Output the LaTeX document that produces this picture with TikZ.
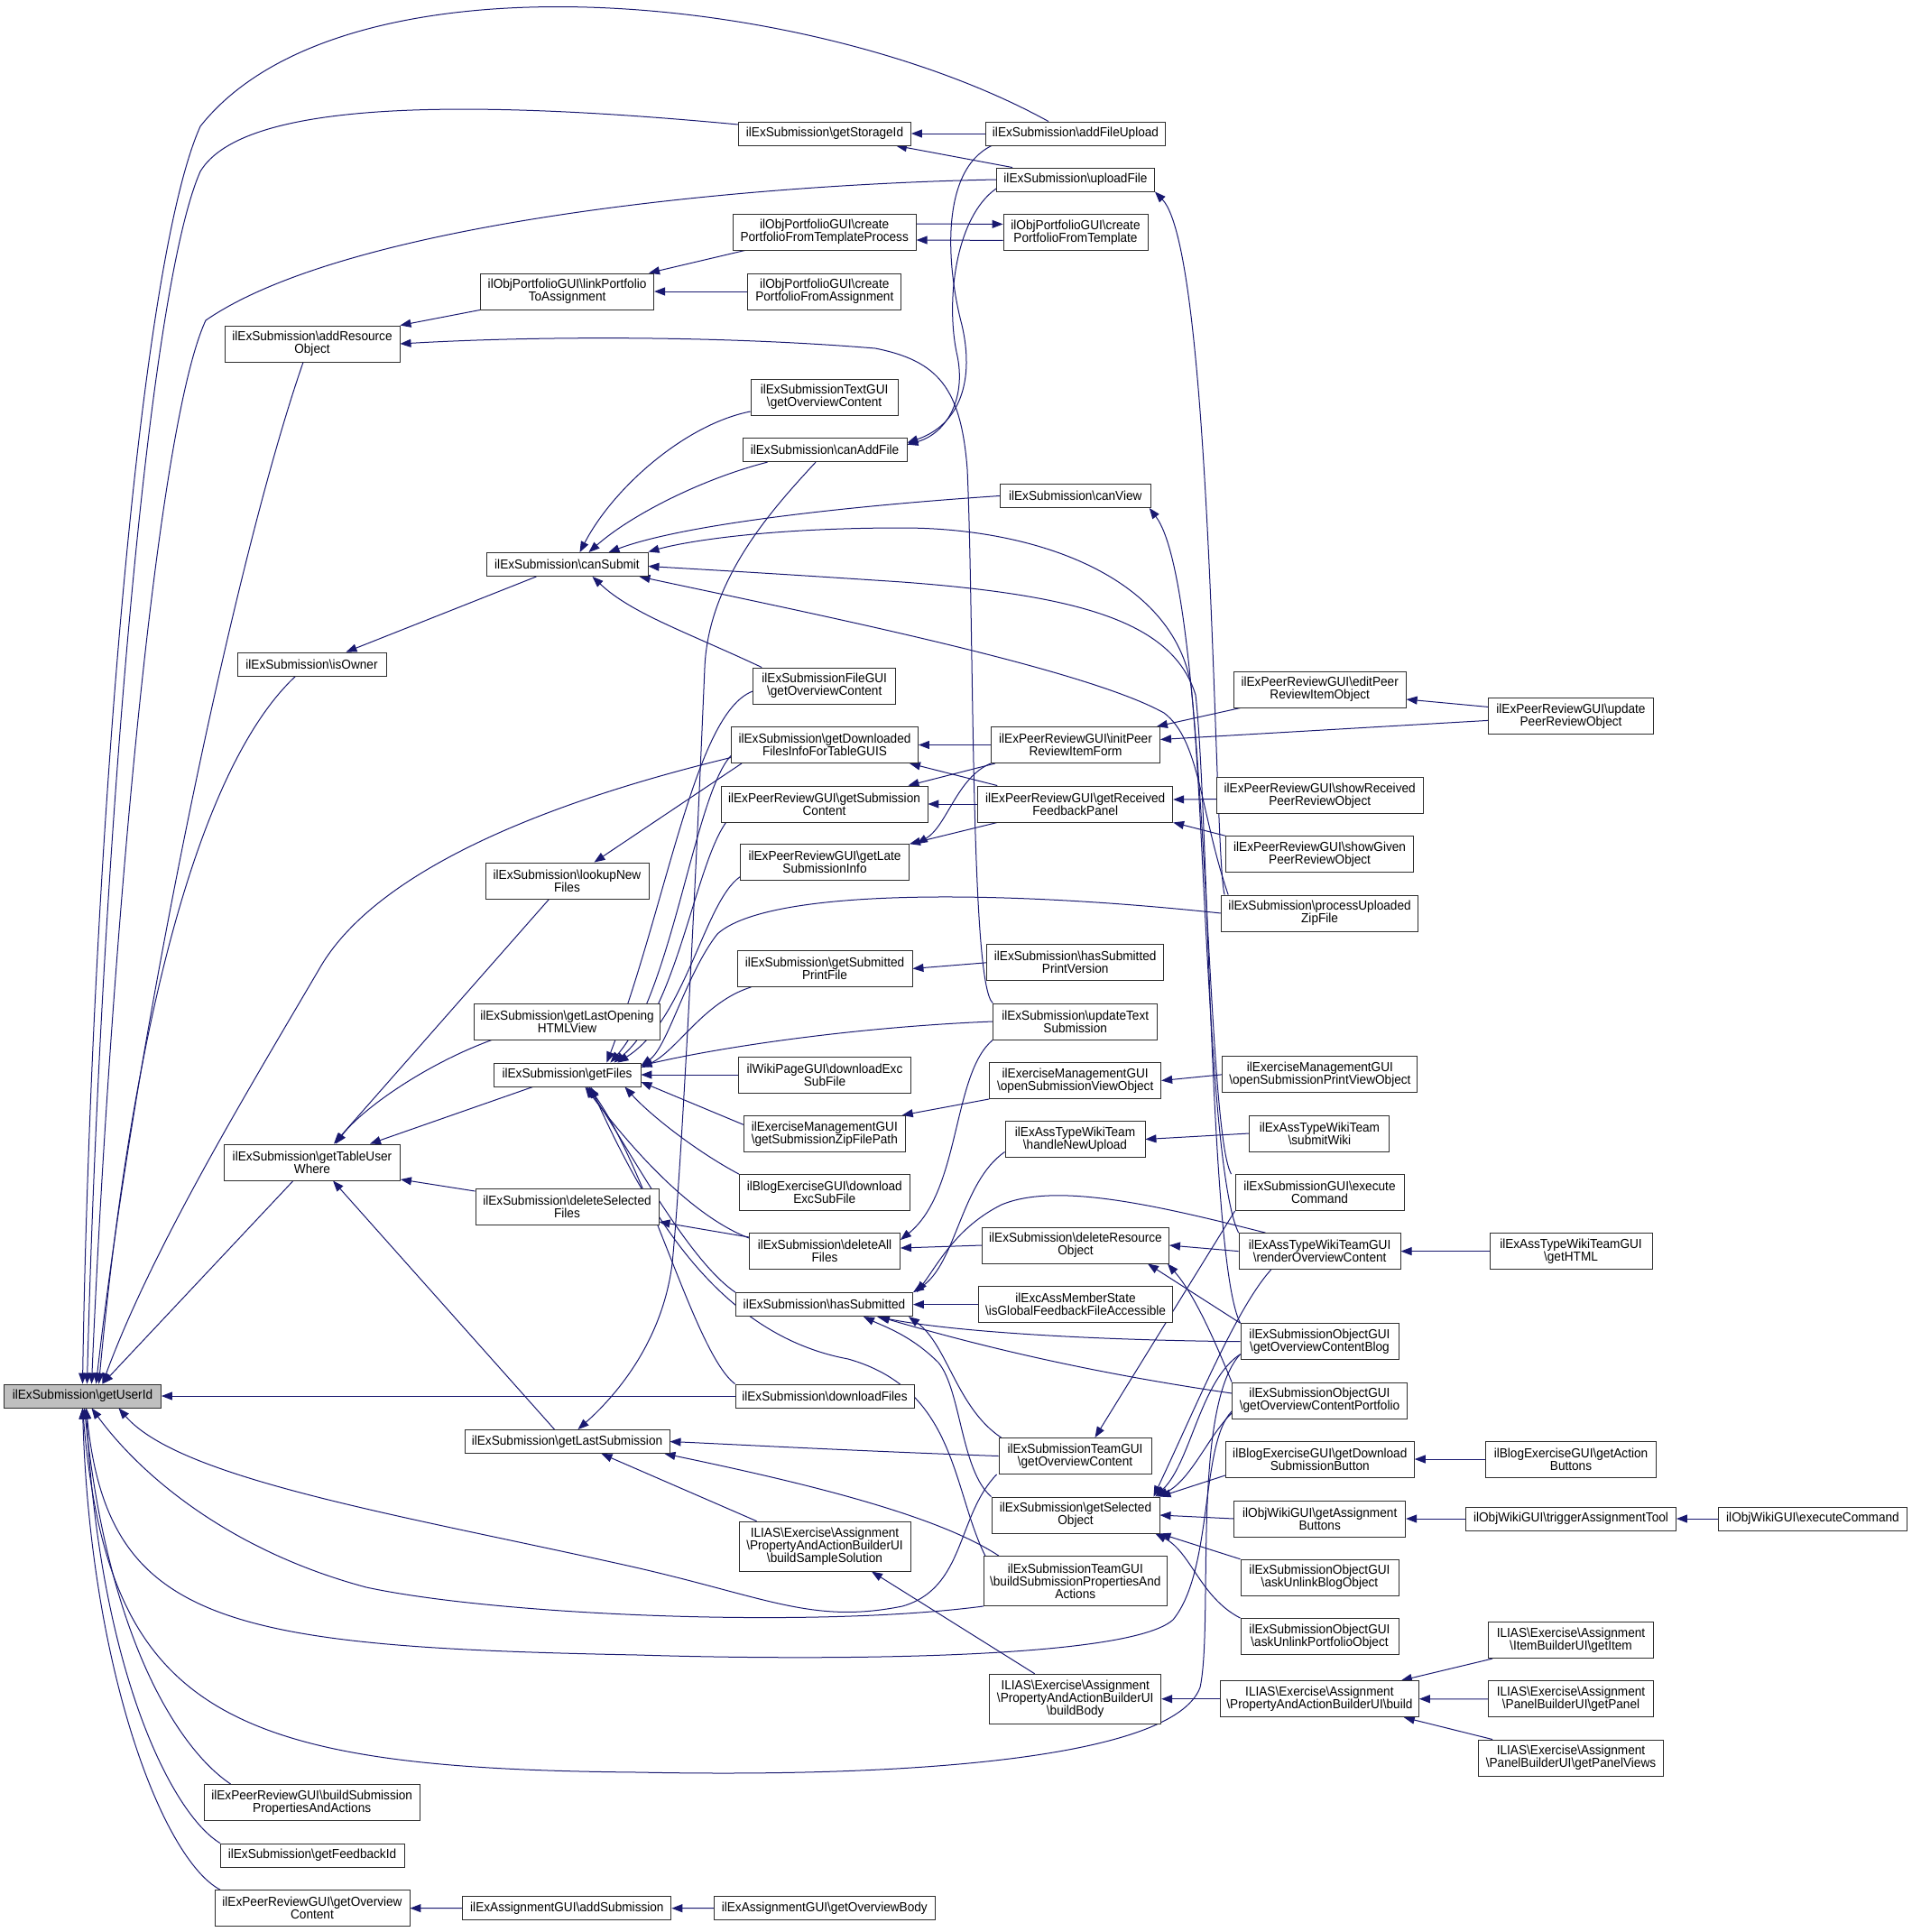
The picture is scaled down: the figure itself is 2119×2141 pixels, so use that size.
\documentclass[tikz,border=0pt]{standalone}
\usepackage{fontspec}
\newfontfamily\dxfont{Liberation Sans}[FakeStretch=0.94]
\usetikzlibrary{arrows.meta,backgrounds}
\definecolor{edgeblue}{HTML}{191970}
\definecolor{rootgrey}{HTML}{BFBFBF}
\definecolor{boxline}{HTML}{2E2E2E}
\newcommand{\bsl}{\textbackslash}

\tikzset{
  fn/.style={draw=boxline, fill=white, line width=0.9pt, align=center, inner sep=1pt,
    minimum height=26pt, font={\dxfont\fontsize{14.5pt}{14pt}\selectfont}},
  fnb/.style={fn, minimum height=40pt},
  fnc/.style={fn, minimum height=55pt},
  wd/.style={minimum width=#1},
  call/.style={draw=edgeblue, line width=1pt, -{Triangle[length=12pt,width=9pt]}}
}

\begin{document}
\begin{tikzpicture}[x=1pt,y=-1pt]
\useasboundingbox (0,0) rectangle (2119,2141);

% root
\node[fn,fill=rootgrey,wd=174] (uid) at (91.5,1547) {ilExSubmission\bsl getUserId};

% column 2
\node[fnb,wd=194] (arso) at (346,381) {ilExSubmission\bsl addResource\\Object};
\node[fn,wd=165] (own) at (345.5,736) {ilExSubmission\bsl isOwner};
\node[fnb,wd=195] (tuw) at (346,1288) {ilExSubmission\bsl getTableUser\\Where};
\node[fnb,wd=239] (prbsp) at (345.7,1997.5) {ilExPeerReviewGUI\bsl buildSubmission\\PropertiesAndActions};
\node[fn,wd=204] (fbid) at (346,2056) {ilExSubmission\bsl getFeedbackId};
\node[fnb,wd=216] (proc) at (346,2114.6) {ilExPeerReviewGUI\bsl getOverview\\Content};

% column 3
\node[fnb,wd=192] (link) at (628.6,323) {ilObjPortfolioGUI\bsl linkPortfolio\\ToAssignment};
\node[fn,wd=179] (csub) at (628.5,625.5) {ilExSubmission\bsl canSubmit};
\node[fnb,wd=181] (lnf) at (628.5,976) {ilExSubmission\bsl lookupNew\\Files};
\node[fnb,wd=206] (glo) at (628.5,1132) {ilExSubmission\bsl getLastOpening\\HTMLView};
\node[fn,wd=163] (gfiles) at (628.5,1191) {ilExSubmission\bsl getFiles};
\node[fnb,wd=203] (dsf) at (628.5,1337) {ilExSubmission\bsl deleteSelected\\Files};
\node[fn,wd=227] (gls) at (628.5,1597.5) {ilExSubmission\bsl getLastSubmission};
\node[fn,wd=231] (asub) at (628.4,2114.7) {ilExAssignmentGUI\bsl addSubmission};

% column 4
\node[fn,wd=191] (stor) at (914,148) {ilExSubmission\bsl getStorageId};
\node[fnb,wd=203] (cpftp) at (913.7,257) {ilObjPortfolioGUI\bsl create\\PortfolioFromTemplateProcess};
\node[fnb,wd=170] (cpfa) at (913.8,323) {ilObjPortfolioGUI\bsl create\\PortfolioFromAssignment};
\node[fnb,wd=163] (tgui) at (913.6,440) {ilExSubmissionTextGUI\\\bsl getOverviewContent};
\node[fn,wd=182] (caf) at (914,498.7) {ilExSubmission\bsl canAddFile};
\node[fnb,wd=158] (fgui) at (913.7,760) {ilExSubmissionFileGUI\\\bsl getOverviewContent};
\node[fnb,wd=207] (dfi) at (914,825.5) {ilExSubmission\bsl getDownloaded\\FilesInfoForTableGUIS};
\node[fnb,wd=229] (subc) at (913.5,891) {ilExPeerReviewGUI\bsl getSubmission\\Content};
\node[fnb,wd=187] (late) at (914,955.7) {ilExPeerReviewGUI\bsl getLate\\SubmissionInfo};
\node[fnb,wd=194] (gspf) at (914,1073.4) {ilExSubmission\bsl getSubmitted\\PrintFile};
\node[fnb,wd=191] (wdl) at (914,1191) {ilWikiPageGUI\bsl downloadExc\\SubFile};
\node[fnb,wd=179] (zip) at (913.8,1256.3) {ilExerciseManagementGUI\\\bsl getSubmissionZipFilePath};
\node[fnb,wd=189] (bdl) at (913.8,1321.5) {ilBlogExerciseGUI\bsl download\\ExcSubFile};
\node[fnb,wd=167] (daf) at (914,1386) {ilExSubmission\bsl deleteAll\\Files};
\node[fn,wd=196] (hsub) at (913.5,1445.6) {ilExSubmission\bsl hasSubmitted};
\node[fn,wd=198] (dlf) at (914,1547) {ilExSubmission\bsl downloadFiles};
\node[fnc,wd=190] (bss) at (914,1713.6) {ILIAS\bsl Exercise\bsl Assignment\\\bsl PropertyAndActionBuilderUI\\\bsl buildSampleSolution};
\node[fn,wd=245] (obody) at (913.8,2114.6) {ilExAssignmentGUI\bsl getOverviewBody};

% column 5
\node[fn,wd=199] (afu) at (1192,148) {ilExSubmission\bsl addFileUpload};
\node[fn,wd=175] (upl) at (1192,199) {ilExSubmission\bsl uploadFile};
\node[fnb,wd=160] (cpft) at (1192,257.4) {ilObjPortfolioGUI\bsl create\\PortfolioFromTemplate};
\node[fn,wd=167] (cview) at (1191.8,549.5) {ilExSubmission\bsl canView};
\node[fnb,wd=187] (ipr) at (1192,825.5) {ilExPeerReviewGUI\bsl initPeer\\ReviewItemForm};
\node[fnb,wd=216] (rfp) at (1191.7,891) {ilExPeerReviewGUI\bsl getReceived\\FeedbackPanel};
\node[fnb,wd=196] (hspv) at (1191.7,1066.8) {ilExSubmission\bsl hasSubmitted\\PrintVersion};
\node[fnb,wd=182] (utxt) at (1191.7,1132) {ilExSubmission\bsl updateText\\Submission};
\node[fnb,wd=190] (osv) at (1191.7,1197.5) {ilExerciseManagementGUI\\\bsl openSubmissionViewObject};
\node[fnb,wd=155] (hnu) at (1191.5,1262.5) {ilExAssTypeWikiTeam\\\bsl handleNewUpload};
\node[fnb,wd=207] (dro) at (1192,1380) {ilExSubmission\bsl deleteResource\\Object};
\node[fnb,wd=215] (gffa) at (1192,1445.6) {ilExcAssMemberState\\\bsl isGlobalFeedbackFileAccessible};
\node[fnb,wd=169] (tgoc) at (1191.5,1613.5) {ilExSubmissionTeamGUI\\\bsl getOverviewContent};
\node[fnb,wd=186] (sel) at (1192,1679) {ilExSubmission\bsl getSelected\\Object};
\node[fnc,wd=203] (tbsp) at (1191.8,1752) {ilExSubmissionTeamGUI\\\bsl buildSubmissionPropertiesAnd\\Actions};
\node[fnc,wd=190] (body) at (1191.7,1882.7) {ILIAS\bsl Exercise\bsl Assignment\\\bsl PropertyAndActionBuilderUI\\\bsl buildBody};

% column 6
\node[fnb,wd=191] (edpr) at (1462.7,764) {ilExPeerReviewGUI\bsl editPeer\\ReviewItemObject};
\node[fnb,wd=229] (srpr) at (1462.7,881.6) {ilExPeerReviewGUI\bsl showReceived\\PeerReviewObject};
\node[fnb,wd=208] (sgpr) at (1462.6,946.7) {ilExPeerReviewGUI\bsl showGiven\\PeerReviewObject};
\node[fnb,wd=218] (puz) at (1462.6,1012) {ilExSubmission\bsl processUploaded\\ZipFile};
\node[fnb,wd=216] (ospv) at (1462.9,1190.8) {ilExerciseManagementGUI\\\bsl openSubmissionPrintViewObject};
\node[fnb,wd=155] (swiki) at (1462.4,1256) {ilExAssTypeWikiTeam\\\bsl submitWiki};
\node[fnb,wd=187] (exsgui) at (1462.5,1321.5) {ilExSubmissionGUI\bsl execute\\Command};
\node[fnb,wd=179] (rov) at (1462.6,1386.6) {ilExAssTypeWikiTeamGUI\\\bsl renderOverviewContent};
\node[fnb,wd=175] (blog) at (1462.5,1486.7) {ilExSubmissionObjectGUI\\\bsl getOverviewContentBlog};
\node[fnb,wd=194] (port) at (1462.5,1552) {ilExSubmissionObjectGUI\\\bsl getOverviewContentPortfolio};
\node[fnb,wd=209] (dsb) at (1462.8,1617) {ilBlogExerciseGUI\bsl getDownload\\SubmissionButton};
\node[fnb,wd=190] (gab) at (1462.7,1683) {ilObjWikiGUI\bsl getAssignment\\Buttons};
\node[fnb,wd=175] (aubl) at (1462.5,1748.2) {ilExSubmissionObjectGUI\\\bsl askUnlinkBlogObject};
\node[fnb,wd=175] (aupo) at (1462.5,1813.5) {ilExSubmissionObjectGUI\\\bsl askUnlinkPortfolioObject};
\node[fnb,wd=220] (build) at (1462.4,1882.7) {ILIAS\bsl Exercise\bsl Assignment\\\bsl PropertyAndActionBuilderUI\bsl build};

% column 7
\node[fnb,wd=183] (updpr) at (1741,793.4) {ilExPeerReviewGUI\bsl update\\PeerReviewObject};
\node[fnb,wd=180] (html) at (1741,1386.6) {ilExAssTypeWikiTeamGUI\\\bsl getHTML};
\node[fnb,wd=189] (tat) at (1741,1617) {ilBlogExerciseGUI\bsl getAction\\Buttons};
\node[fn,wd=233] (trig) at (1741,1683) {ilObjWikiGUI\bsl triggerAssignmentTool};
\node[fnb,wd=183] (item) at (1741,1817.6) {ILIAS\bsl Exercise\bsl Assignment\\\bsl ItemBuilderUI\bsl getItem};
\node[fnb,wd=183] (panel) at (1741,1882.9) {ILIAS\bsl Exercise\bsl Assignment\\\bsl PanelBuilderUI\bsl getPanel};
\node[fnb,wd=205] (pviews) at (1741,1948) {ILIAS\bsl Exercise\bsl Assignment\\\bsl PanelBuilderUI\bsl getPanelViews};

% column 8
\node[fn,wd=209] (wexec) at (2009,1683) {ilObjWikiGUI\bsl executeCommand};

\begin{scope}[on background layer]
% calls of getUserId
\draw[call] ([xshift=-30pt]afu.north) .. controls (900,-10) and (380,-60) .. (222,140) .. controls (150,300) and (100,1000) .. (uid.north);
\draw[call] ([yshift=10pt]stor.west) .. controls (520,110) and (270,110) .. (222,190) .. controls (160,330) and (110,1000) .. ([xshift=5pt]uid.north);
\draw[call] (upl.west) .. controls (800,205) and (380,250) .. (228,355) .. controls (170,480) and (120,1100) .. ([xshift=10pt]uid.north);
\draw[call] ([xshift=-10pt]arso.south) .. controls (260,620) and (150,1150) .. ([xshift=15pt]uid.north);
\draw[call] ([xshift=-18pt]own.south) .. controls (230,840) and (150,1100) .. ([xshift=18pt]uid.north);
\draw[call] ([yshift=-14pt]dfi.west) .. controls (560,900) and (410,980) .. (356,1070) .. controls (280,1200) and (170,1380) .. ([xshift=22pt]uid.north);
\draw[call] ([xshift=-21pt]tuw.south) -- ([xshift=22pt]uid.north);
\draw[call] (dlf.west) -- (uid.east);
\draw[call] ([xshift=-2pt]tgoc.south west) .. controls (1060,1680) and (1070,1760) .. (1000,1780) .. controls (900,1800) and (850,1770) .. (700,1736) .. controls (450,1680) and (200,1640) .. ([xshift=40pt]uid.south);
\draw[call] (tbsp.south west) .. controls (900,1805) and (550,1790) .. (406,1759) .. controls (260,1720) and (160,1640) .. ([xshift=10pt]uid.south);
\draw[call] ([yshift=-12pt]port.west) .. controls (1330,1600) and (1345,1740) .. (1300,1795) .. controls (1250,1840) and (900,1840) .. (707,1834) .. controls (250,1825) and (120,1800) .. ([xshift=4pt]uid.south);
\draw[call] ([yshift=-14pt]blog.west) .. controls (1320,1560) and (1345,1800) .. (1330,1870) .. controls (1300,1950) and (1000,1970) .. (707,1964) .. controls (250,1960) and (120,1900) .. (uid.south);
\draw[call] ([xshift=-90pt]prbsp.north) .. controls (200,1940) and (120,1820) .. ([xshift=2pt]uid.south);
\draw[call] ([xshift=-102pt]fbid.north) .. controls (190,2010) and (110,1850) .. ([xshift=4pt]uid.south);
\draw[call] ([xshift=-102pt]proc.north) .. controls (180,2060) and (100,1850) .. (uid.south);
\draw[call] (asub.west) -- (proc.east);
\draw[call] (obody.west) -- (asub.east);

% upper part
\draw[call] (afu.west) -- (stor.east);
\draw[call] ([xshift=-70pt]upl.north) -- ([xshift=-17pt]stor.south east);
\draw[call] ([xshift=7pt]afu.south west) .. controls (1040,190) and (1050,300) .. (1066,360) .. controls (1080,420) and (1065,470) .. ([yshift=8pt]caf.east);
\draw[call] ([yshift=-10pt]upl.west) .. controls (1060,240) and (1048,330) .. (1060,390) .. controls (1072,440) and (1050,480) .. ([yshift=6pt]caf.east);
\draw[call] ([xshift=14pt]cpftp.south west) -- ([xshift=-6pt]link.north east);
\draw[call] (cpfa.west) -- (link.east);
\draw[call] ([yshift=9pt]cpftp.east) -- ([yshift=9pt]cpft.west);
\draw[call] ([yshift=-9pt]cpft.west) -- ([yshift=-9pt]cpftp.east);
\draw[call] (link.south west) -- (arso.north east);
\draw[call] (utxt.north west) .. controls (1075,1090) and (1080,700) .. (1072,520) .. controls (1065,430) and (1040,400) .. (970,386) .. controls (800,372) and (600,372) .. (arso.east);

% canSubmit
\draw[call] ([yshift=-16pt]tgui.west) .. controls (760,470) and (680,540) .. ([xshift=14pt]csub.north);
\draw[call] ([xshift=28pt]caf.south west) .. controls (780,530) and (700,570) .. ([xshift=24pt]csub.north);
\draw[call] (cview.west) .. controls (950,560) and (760,580) .. ([xshift=46pt]csub.north);
\draw[call] ([xshift=10pt]fgui.north west) .. controls (760,700) and (700,680) .. ([xshift=28pt]csub.south);
\draw[call] (rov.north west) .. controls (1340,1300) and (1335,900) .. (1320,760) .. controls (1300,640) and (1150,585) .. (1000,585) .. controls (850,585) and (760,600) .. ([yshift=14pt]csub.east);
\draw[call] (blog.north west) .. controls (1340,1400) and (1340,900) .. (1325,770) .. controls (1300,690) and (1200,660) .. (1000,645) .. controls (850,635) and (760,630) .. ([yshift=-2pt]csub.east);
\draw[call] ([xshift=8pt]puz.north west) .. controls (1330,900) and (1330,820) .. (1290,790) .. controls (1200,740) and (900,680) .. ([xshift=-10pt]csub.south east);
\draw[call] ([xshift=-34pt]csub.south) -- ([xshift=38pt]own.north);
\draw[call] ([xshift=4pt]puz.north west) .. controls (1345,950) and (1345,280) .. (upl.south east);
\draw[call] ([xshift=-4pt]exsgui.north west) .. controls (1335,1250) and (1340,650) .. ([xshift=-2pt]cview.south east);
\draw[call] (exsgui.south west) -- ([xshift=22pt]tgoc.north);

% getFiles
\draw[call] (wdl.west) -- (gfiles.east);
\draw[call] (utxt.west) .. controls (950,1138) and (800,1160) .. ([yshift=10pt]gfiles.east);
\draw[call] ([yshift=10pt]zip.west) -- ([yshift=-8pt]gfiles.east);
\draw[call] (bdl.north west) .. controls (770,1275) and (720,1235) .. ([xshift=-18pt]gfiles.south east);
\draw[call] ([yshift=14pt]daf.west) .. controls (760,1345) and (690,1260) .. ([xshift=20pt]gfiles.south);
\draw[call] (hsub.north west) .. controls (760,1395) and (690,1260) .. ([xshift=22pt]gfiles.south);
\draw[call] (dlf.north west) .. controls (770,1500) and (720,1300) .. ([xshift=24pt]gfiles.south);
\draw[call] ([xshift=16pt]gspf.south west) .. controls (780,1110) and (750,1165) .. ([yshift=8pt]gfiles.east);
\draw[call] (puz.west) .. controls (1100,985) and (850,985) .. (795,1035) .. controls (760,1080) and (740,1160) .. ([yshift=10pt]gfiles.east);
\draw[call] ([yshift=-16pt]late.west) .. controls (780,1000) and (760,1130) .. ([xshift=-26pt]gfiles.north east);
\draw[call] ([xshift=6pt]subc.south west) .. controls (770,960) and (750,1120) .. ([xshift=-30pt]gfiles.north east);
\draw[call] ([yshift=-12pt]dfi.west) .. controls (770,880) and (745,1100) .. ([xshift=-34pt]gfiles.north east);
\draw[call] ([yshift=-6pt]fgui.west) .. controls (770,790) and (740,1000) .. ([xshift=-38pt]gfiles.north east);
\draw[call] ([xshift=2pt]tbsp.north west) .. controls (1055,1650) and (1060,1540) .. (940,1506) .. controls (800,1480) and (720,1350) .. ([xshift=26pt]gfiles.south);

% getTableUserWhere
\draw[call] ([xshift=44pt]gfiles.south west) -- ([xshift=64pt]tuw.north);
\draw[call] ([xshift=20pt]glo.south west) .. controls (470,1180) and (400,1230) .. ([xshift=26pt]tuw.north);
\draw[call] ([xshift=-20pt]lnf.south) -- ([xshift=24pt]tuw.north);
\draw[call] ([yshift=17pt]dsf.west) -- ([yshift=-19pt]tuw.east);
\draw[call] ([xshift=-14pt]gls.north) -- ([xshift=23pt]tuw.south);
\draw[call] ([xshift=12pt]dfi.south west) -- ([xshift=30pt]lnf.north);
\draw[call] ([yshift=15pt]daf.west) -- ([yshift=-17pt]dsf.east);

% peer review
\draw[call] (ipr.west) -- (dfi.east);
\draw[call] ([xshift=5pt]ipr.south west) -- ([xshift=-22pt]subc.north east);
\draw[call] (ipr.south west) .. controls (1060,862) and (1050,915) .. ([xshift=8pt]late.north east);
\draw[call] (rfp.west) -- (subc.east);
\draw[call] ([xshift=22pt]rfp.north west) -- ([xshift=-10pt]dfi.south east);
\draw[call] ([xshift=22pt]rfp.south west) -- (late.north east);
\draw[call] ([xshift=8pt]edpr.south west) -- ([xshift=-4pt]ipr.north east);
\draw[call] ([yshift=-5pt]updpr.west) -- ([yshift=6pt]ipr.east);
\draw[call] ([yshift=10pt]updpr.west) -- ([yshift=-11pt]edpr.east);
\draw[call] ([yshift=-4pt]srpr.west) -- ([yshift=5pt]rfp.east);
\draw[call] (sgpr.north west) -- (rfp.south east);

% middle part
\draw[call] (hspv.west) -- (gspf.east);
\draw[call] (osv.south west) -- ([xshift=-4pt]zip.north east);
\draw[call] (ospv.west) -- (osv.east);
\draw[call] (swiki.west) -- (hnu.east);
\draw[call] ([yshift=-14pt]hnu.west) .. controls (1065,1310) and (1060,1400) .. (hsub.north east);
\draw[call] (utxt.south west) .. controls (1055,1190) and (1065,1320) .. ([yshift=12pt]daf.east);
\draw[call] (dro.west) -- ([yshift=3pt]daf.east);
\draw[call] (rov.west) -- (dro.east);
\draw[call] (html.west) -- (rov.east);
\draw[call] (blog.north west) -- ([xshift=-24pt]dro.south east);
\draw[call] (port.north west) .. controls (1340,1470) and (1320,1430) .. ([xshift=-2pt]dro.south east);
\draw[call] ([xshift=-60pt]rov.north) .. controls (1280,1335) and (1170,1310) .. (1110,1335) .. controls (1060,1360) and (1040,1400) .. ([xshift=4pt]hsub.north east);
\draw[call] (gffa.west) -- (hsub.east);
\draw[call] (blog.west) .. controls (1200,1485) and (1050,1475) .. ([xshift=-40pt]hsub.south east);
\draw[call] ([yshift=8pt]port.west) .. controls (1200,1520) and (1080,1490) .. ([xshift=-38pt]hsub.south east);
\draw[call] ([xshift=3pt]tgoc.north west) .. controls (1060,1560) and (1050,1490) .. ([xshift=-5pt]hsub.south east);
\draw[call] (sel.north west) .. controls (1065,1630) and (1065,1540) .. (1040,1510) .. controls (1010,1480) and (980,1470) .. ([xshift=-55pt]hsub.south east);

% getSelectedObject
\draw[call] ([xshift=-54pt]rov.south) .. controls (1370,1450) and (1325,1560) .. ([xshift=-7pt]sel.north east);
\draw[call] ([yshift=-14pt]blog.west) .. controls (1330,1530) and (1320,1620) .. ([xshift=-5pt]sel.north east);
\draw[call] ([yshift=-14pt]port.west) .. controls (1340,1590) and (1320,1640) .. ([xshift=-3pt]sel.north east);
\draw[call] ([yshift=-18pt]dsb.west) -- (sel.north east);
\draw[call] (gab.west) -- (sel.east);
\draw[call] (aubl.north west) -- (sel.south east);
\draw[call] (aupo.north west) .. controls (1330,1770) and (1320,1720) .. ([xshift=-5pt]sel.south east);
\draw[call] (tat.west) -- (dsb.east);
\draw[call] (trig.west) -- (gab.east);
\draw[call] (wexec.west) -- (trig.east);

% getLastSubmission
\draw[call] ([xshift=-10pt]caf.south) .. controls (860,560) and (785,640) .. (781,740) .. controls (770,1000) and (755,1300) .. (745,1400) .. controls (735,1480) and (690,1540) .. ([xshift=12pt]gls.north);
\draw[call] (tgoc.west) .. controls (950,1608) and (800,1600) .. (gls.east);
\draw[call] ([xshift=20pt]bss.north west) -- ([xshift=38pt]gls.south);
\draw[call] ([xshift=17pt]tbsp.north west) .. controls (1040,1680) and (900,1645) .. ([xshift=-6pt]gls.south east);
\draw[call] ([xshift=-45pt]body.north) -- ([xshift=52pt]bss.south);
\draw[call] (build.west) -- (body.east);
\draw[call] ([xshift=5pt]item.south west) -- ([xshift=-20pt]build.north east);
\draw[call] (panel.west) -- (build.east);
\draw[call] ([xshift=16pt]pviews.north west) -- ([xshift=-17pt]build.south east);
\end{scope}
\end{tikzpicture}
\end{document}
